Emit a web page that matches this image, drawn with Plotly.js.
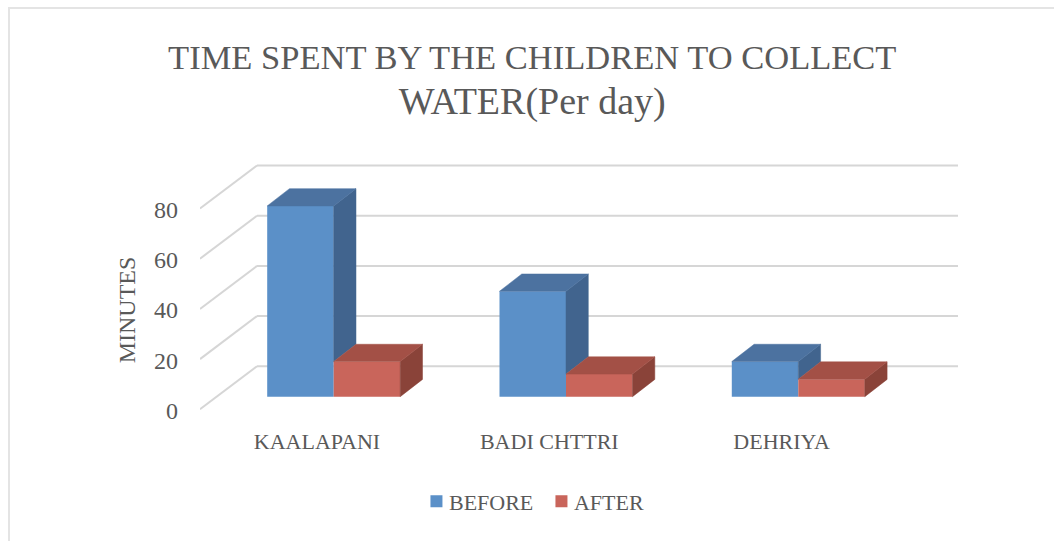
<!DOCTYPE html>
<html><head><meta charset="utf-8">
<script src="https://cdn.plot.ly/plotly-3.0.1.min.js"></script>
<style>
html,body{margin:0;padding:0;background:#fff;overflow:hidden}
#frame{position:absolute;left:8px;top:7px;width:1060px;height:560px;border:2px solid #e4e4e4}
#chart{position:absolute;left:0;top:0;width:1054px;height:541px}
</style></head><body>
<div id="frame"></div><div id="chart"></div>
<script>
const categories = ["KAALAPANI", "BADI CHTTRI", "DEHRIYA"];
const before = [76, 42, 14];
const after = [14, 9, 7];
const yTicks = [0, 20, 40, 60, 80];

const FONT = "'Liberation Serif', serif";
const TEXT = "#595959";
const pxPerCat = 232.3, pxPerVal = 2.51;
const plotL = 200, plotR = 958, zeroPx = 409.3, plotB = 460, plotT = 160;
const xRange = [(plotL - 317) / pxPerCat, (plotR - 317) / pxPerCat];
const yRange = [(zeroPx - plotB) / pxPerVal, (zeroPx - plotT) / pxPerVal];
const wallDx = 57 / pxPerCat, wallDy = 43 / pxPerVal;
const planeDx = 16.7 / pxPerCat, planeDy = 12.6 / pxPerVal;
const barW = 66.5 / pxPerCat, barDx = 22.3 / pxPerCat, barDy = 17.3 / pxPerVal;
const idx = categories.map((_, i) => i);
const baseLine = idx.map(() => planeDy);

function bar(name, vals, shift, color) {
  return {type: "bar", name, x: idx.map(i => i + planeDx + shift), y: vals, base: baseLine,
    width: idx.map(() => barW), marker: {color, line: {width: 0}}, hoverinfo: "skip"};
}
function poly(pts, color) {
  return {type: "scatter", mode: "lines", x: pts.map(p => p && p[0]), y: pts.map(p => p && p[1]),
    fill: "toself", fillcolor: color, line: {width: 0.5, color}, showlegend: false, hoverinfo: "skip"};
}
function topPts(vals, shift) {
  const pts = [];
  idx.forEach(i => {
    const c = i + planeDx + shift, y = vals[i] + planeDy;
    pts.push([c - barW/2, y], [c + barW/2, y], [c + barW/2 + barDx, y + barDy], [c - barW/2 + barDx, y + barDy], [c - barW/2, y], null);
  });
  return pts;
}
function sidePts(vals, floor, shift) {
  const pts = [];
  idx.forEach(i => {
    const r = i + planeDx + shift + barW/2;
    const y1 = vals[i] + planeDy, y0 = (floor ? floor[i] : 0) + planeDy;
    pts.push([r, y0], [r + barDx, y0 + barDy], [r + barDx, y1 + barDy], [r, y1], [r, y0], null);
  });
  return pts;
}
const gridStyle = {color: "#d6d6d6", width: 2};
const gridShapes = [];
yTicks.forEach(v => {
  gridShapes.push({type: "line", layer: "below", xref: "x", yref: "y", x0: xRange[0], y0: v, x1: xRange[0] + wallDx, y1: v + wallDy, line: gridStyle});
  gridShapes.push({type: "line", layer: "below", xref: "x", yref: "y", x0: xRange[0] + wallDx, y0: v + wallDy, x1: xRange[1], y1: v + wallDy, line: gridStyle});
});

const traces = [
  bar("BEFORE", before, -barW/2, "#5B90C8"),
  bar("AFTER", after, barW/2, "#C9655B"),
  poly(sidePts(before, after, -barW/2), "#41648E"),
  poly(topPts(before, -barW/2), "#4C72A0"),
  poly(sidePts(after, null, barW/2), "#8A4339"),
  poly(topPts(after, barW/2), "#A35046")
];
const layout = {
  width: 1054, height: 541, paper_bgcolor: "rgba(0,0,0,0)", plot_bgcolor: "rgba(0,0,0,0)",
  margin: {l: plotL, r: 1054 - plotR, t: plotT, b: 541 - plotB, pad: 0},
  barmode: "overlay",
  font: {family: FONT, color: TEXT},
  shapes: gridShapes,
  title: {text: 'TIME SPENT BY THE CHILDREN TO COLLECT<br><span style="font-size:38px">WATER(Per day)</span>', font: {family: FONT, size: 34.5, color: TEXT},
    x: 0.505, xanchor: "center", y: 0.872, yanchor: "middle"},
  xaxis: {range: xRange, anchor: "free", position: (plotB - zeroPx) / (plotB - plotT),
    tickmode: "array", tickvals: idx, ticktext: categories, showgrid: false, zeroline: false,
    showline: false, ticks: "", ticklabelstandoff: 17, tickfont: {family: FONT, size: 22, color: TEXT}},
  yaxis: {range: yRange, tickmode: "array", tickvals: yTicks, showgrid: false, zeroline: false, showline: false, ticks: "",
    ticklabelstandoff: 21, ticklabelshift: 1, tickfont: {family: FONT, size: 24, color: TEXT},
    title: {text: "MINUTES", font: {family: FONT, size: 24, color: TEXT}, standoff: 11}},
  legend: {orientation: "h", xref: "container", yref: "container", x: 0.388, xanchor: "left", y: 0.073, yanchor: "middle",
    entrywidth: 80, entrywidthmode: "pixels",
    font: {family: FONT, size: 22, color: TEXT}, bgcolor: "rgba(0,0,0,0)", traceorder: "normal"},
  showlegend: true
};
Plotly.newPlot("chart", traces, layout, {displayModeBar: false, staticPlot: true}).then(() => {
  document.querySelectorAll("#chart .legendsymbols").forEach(g => g.setAttribute("transform", "translate(7.5,0)"));
});
</script></body></html>
